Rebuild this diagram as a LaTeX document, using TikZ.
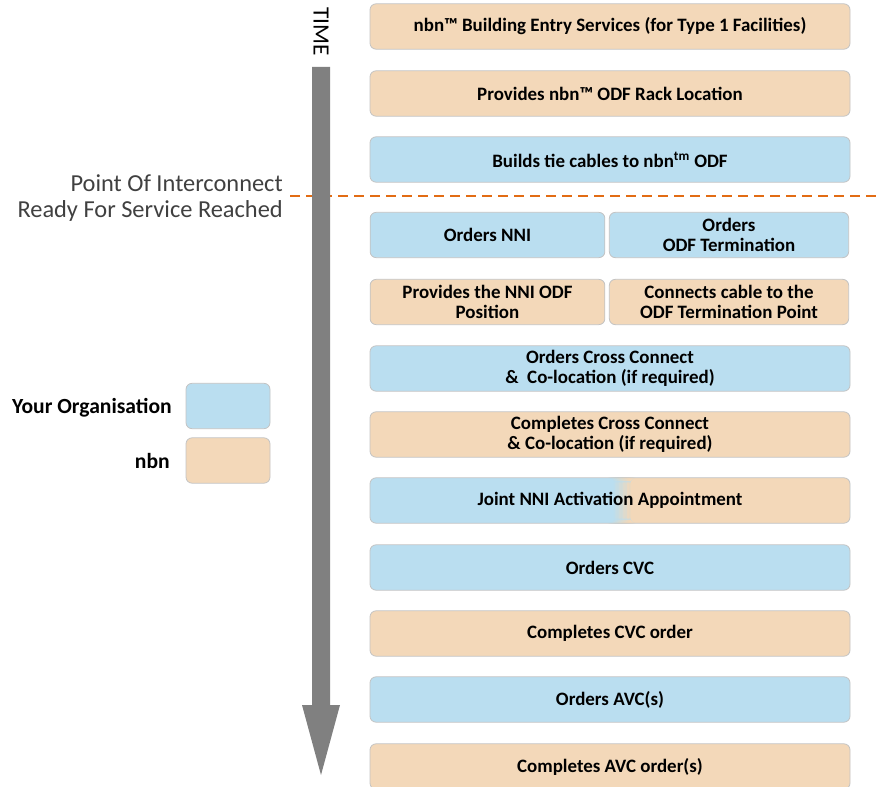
\documentclass[tikz,border=0pt]{standalone}
\usepackage{fontspec}
\setmainfont{Carlito}
\definecolor{orgfill}{RGB}{186,222,240}
\definecolor{nbnfill}{RGB}{243,216,185}
\definecolor{boxline}{RGB}{195,195,195}
\definecolor{arrowgray}{RGB}{128,128,128}
\definecolor{poiline}{RGB}{226,108,20}
\definecolor{poitext}{RGB}{64,64,64}
\tikzset{
  stepbox/.style={draw=boxline, line width=0.6pt, rounded corners=4.5pt, inner sep=0pt,
    minimum height=34pt, align=center, text=black,
    font=\fontsize{14.2}{15}\selectfont\bfseries},
  fullbox/.style={stepbox, minimum width=360pt},
  leftbox/.style={stepbox, minimum width=176pt},
  rightbox/.style={stepbox, minimum width=179.5pt},
  orgbox/.style={fill=orgfill},
  nbnbox/.style={fill=nbnfill},
  legbox/.style={draw=boxline, line width=0.6pt, rounded corners=4.5pt, minimum width=63pt, minimum height=34pt, inner sep=0pt},
  legtext/.style={anchor=east, font=\fontsize{16.2}{18}\selectfont\bfseries, text=black, inner sep=0pt},
}
\begin{document}
\begin{tikzpicture}[x=0.75pt,y=-0.75pt]
\useasboundingbox (0,0) rectangle (881,787);
% dashed milestone line
\coordinate (poiL) at (290,196);
\coordinate (poiR) at (881,196);
\draw[poiline, line width=1.6pt, dash pattern=on 7.5pt off 4.5pt] (poiL) -- (poiR);
% time arrow
\fill[arrowgray] (312,67) -- (330,67) -- (330,705) -- (340,705) -- (321,775) -- (302,705) -- (312,705) -- cycle;
\node[rotate=-90, font=\fontsize{17.5}{17.5}\selectfont, text=black, inner sep=0pt] (time) at (321,31.5) {TIME};
% milestone text
\node[anchor=east, align=right, text=poitext, font=\fontsize{18.3}{19.5}\selectfont, inner sep=0pt] (poi) at (283,198) {Point Of Interconnect\\Ready For Service Reached};
% steps
\node[fullbox, nbnbox] (s1) at (610,26.5) {nbn™ Building Entry Services (for Type 1 Facilities)};
\node[fullbox, nbnbox] (s2) at (610,93.5) {Provides nbn™ ODF Rack Location};
\node[fullbox, orgbox] (s3) at (610,159.5) {Builds tie cables to nbn\textsuperscript{tm} ODF};
\node[leftbox, orgbox] (s4a) at (487.5,235) {Orders NNI};
\node[rightbox, orgbox] (s4b) at (729,235) {Orders\\ODF Termination};
\node[leftbox, nbnbox] (s5a) at (487.5,302) {Provides the NNI ODF\\Position};
\node[rightbox, nbnbox] (s5b) at (729,302) {Connects cable to the\\ODF Termination Point};
\node[fullbox, orgbox] (s6) at (610,368.5) {Orders Cross Connect\\\& \ Co-location (if required)};
\node[fullbox, nbnbox] (s7) at (610,434.5) {Completes Cross Connect\\\& Co-location (if required)};
\node[fullbox, orgbox, path picture={
   \foreach \i [evaluate=\i as \p using \i*100/22] in {0,...,22} {
     \fill[nbnfill!\p!orgfill]
       ([xshift={182pt+\i*0.6pt}]path picture bounding box.south west) rectangle
       ([xshift={182.8pt+\i*0.6pt}]path picture bounding box.north west);
   }
   \fill[nbnfill] ([xshift=195.4pt]path picture bounding box.south west) rectangle (path picture bounding box.north east);}]
   (s8) at (610,500.5) {Joint NNI Activation Appointment};
\node[fullbox, orgbox] (s9) at (610,567.5) {Orders CVC};
\node[fullbox, nbnbox] (s10) at (610,633.5) {Completes CVC order};
\node[fullbox, orgbox] (s11) at (610,699.5) {Orders AVC(s)};
\node[fullbox, nbnbox] (s12) at (610,766.5) {Completes AVC order(s)};
% legend
\node[legbox, orgbox] (legorg) at (228,406) {};
\node[legbox, nbnbox] (legnbn) at (228,460.5) {};
\node[legtext] (legorgtxt) at (172,408) {Your Organisation};
\node[legtext] (legnbntxt) at (170,461) {nbn};
\end{tikzpicture}
\end{document}
